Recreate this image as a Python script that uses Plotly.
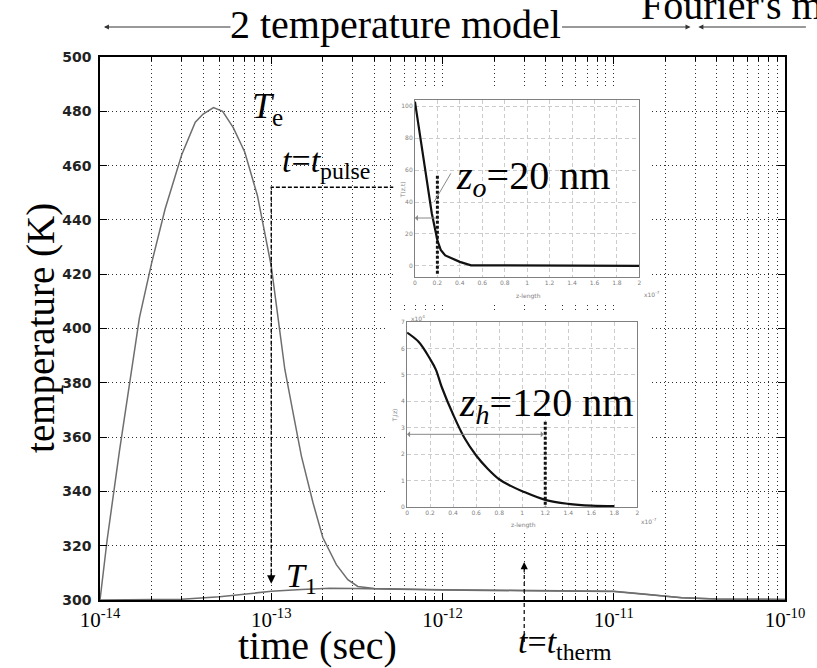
import math
import plotly.graph_objects as go

# ---------------- data ----------------
# electron temperature T_e (K) versus time (s)
te_time = [1.0e-14, 1.1e-14, 1.3e-14, 1.5e-14, 1.7e-14, 2.0e-14, 2.4e-14, 3.0e-14,
           3.6e-14, 4.0e-14, 4.6e-14, 5.2e-14, 6.0e-14, 7.0e-14, 8.3e-14, 1.0e-13,
           1.1e-13, 1.2e-13, 1.35e-13, 1.5e-13, 1.75e-13, 2.0e-13, 2.4e-13, 2.8e-13,
           3.2e-13, 4.0e-13, 1.0e-12, 3.0e-12, 1.0e-11, 1.5e-11, 2.5e-11, 4.0e-11, 1.0e-10]
te_temp = [300, 322, 355, 382, 404, 424, 444, 464,
           476, 479, 481.4, 480, 474, 465, 449, 423,
           402, 385, 368, 353, 336, 323, 313, 307.5,
           305, 304.2, 303.8, 303.5, 303.2, 302.2, 300.8, 300.4, 300.2]

# lattice temperature T_1 (K) versus time (s)
tl_time = [1.0e-14, 2.0e-14, 3.0e-14, 5.0e-14, 7.0e-14, 1.0e-13, 1.5e-13, 2.2e-13,
           3.0e-13, 5.0e-13, 1.0e-12, 3.0e-12, 1.0e-11, 1.5e-11, 2.5e-11, 4.0e-11, 1.0e-10]
tl_temp = [300, 300.1, 300.3, 301.2, 302.2, 303.2, 303.9, 304.3,
           304.2, 303.9, 303.7, 303.4, 303.1, 302.1, 300.8, 300.4, 300.2]

# inset 1: absorbed profile versus depth (x1e-7 m)
depth_o = [0, 0.05, 0.10, 0.15, 0.20, 0.23, 0.27, 0.32, 0.40, 0.50, 2.0]
prof_o = [103, 79, 56, 33, 16, 10, 6.5, 4.8, 2.5, 0.3, 0]

# inset 2: heated-zone profile versus depth (x1e-7 m)
depth_h = [0, 0.1, 0.2, 0.25, 0.3, 0.4, 0.5, 0.6, 0.7, 0.8, 0.9, 1.0, 1.2, 1.4, 1.6, 1.8]
prof_h = [6.6, 6.25, 5.6, 5.2, 4.55, 3.5, 2.6, 1.95, 1.45, 1.05, 0.8, 0.6, 0.27, 0.12, 0.05, 0.03]

decade_ticks = [1e-14, 1e-13, 1e-12, 1e-11, 1e-10]
decade_labels = ["10<sup>-14</sup>", "10<sup>-13</sup>", "10<sup>-12</sup>",
                 "10<sup>-11</sup>", "10<sup>-10</sup>"]
temp_ticks = [300, 320, 340, 360, 380, 400, 420, 440, 460, 480, 500]

t_pulse = 1e-13
pulse_level = 452
pulse_tip = 306
pulse_end = 5.2e-13
t_therm = 3.0e-12
therm_tip = 314
z_o = 0.2
z_h = 1.2

# ---------------- geometry helpers ----------------
W_PX, H_PX = 817, 668
L, R, TOP, BOT = 100, 21, 57, 68
PW = W_PX - L - R
PH = H_PX - TOP - BOT


def fx(x):
    return (x - L) / PW


def fy(y):
    return (H_PX - BOT - y) / PH


serif = "Liberation Serif"
grid_col = "#2e2e2e"
grid_dash = "1px,3px"
curve_col = "#6e6e6e"
minor_vals = [k * 10.0 ** n for n in range(-14, -10) for k in range(2, 10)]

fig = go.Figure()

# main curves
fig.add_trace(go.Scatter(x=te_time, y=te_temp, mode="lines",
                         line=dict(color=curve_col, width=1.5), xaxis="x", yaxis="y"))
fig.add_trace(go.Scatter(x=tl_time, y=tl_temp, mode="lines",
                         line=dict(color=curve_col, width=1.5), xaxis="x", yaxis="y"))

# t = t_pulse dashed marker
fig.add_trace(go.Scatter(x=[pulse_end, t_pulse, t_pulse],
                         y=[pulse_level, pulse_level, pulse_tip + 3],
                         mode="lines", line=dict(color="black", width=1.4, dash="4px,2px"),
                         xaxis="x", yaxis="y"))

# white panels behind the two insets
for ax_id in ("2", "3"):
    fig.add_trace(go.Scatter(x=[0], y=[0], mode="markers", marker=dict(opacity=0),
                             xaxis="x" + ax_id, yaxis="y" + ax_id, hoverinfo="skip"))

# inset 1
fig.add_trace(go.Scatter(x=depth_o, y=prof_o, mode="lines",
                         line=dict(color="#111", width=2.2), xaxis="x4", yaxis="y4"))
fig.add_trace(go.Scatter(x=[z_o, z_o], y=[-5, 57], mode="lines",
                         line=dict(color="#111", width=3, dash="3px,2px"), xaxis="x4", yaxis="y4"))
fig.add_trace(go.Scatter(x=[0.17, 0.32], y=[40, 58], mode="lines",
                         line=dict(color="#888", width=1), xaxis="x4", yaxis="y4"))

# inset 2
fig.add_trace(go.Scatter(x=depth_h, y=prof_h, mode="lines", line_shape="spline",
                         line=dict(color="#111", width=2.2), xaxis="x5", yaxis="y5"))
fig.add_trace(go.Scatter(x=[z_h, z_h], y=[-0.1, 3.3], mode="lines",
                         line=dict(color="#111", width=3, dash="3px,2px"), xaxis="x5", yaxis="y5"))

for tr in fig.data:
    tr.showlegend = False

inset_tick = dict(family="DejaVu Sans", size=6, color="#808080")


def inset_x(domain, anchor):
    return dict(domain=domain, anchor=anchor, range=[0, 2], dtick=0.2, tick0=0,
                showgrid=True, gridcolor="#cccccc", griddash="4px,3px", gridwidth=1,
                showline=True, linecolor="#808080", linewidth=1, mirror=True,
                ticks="", tickfont=inset_tick, zeroline=False, fixedrange=True)


def inset_y(domain, anchor, rng, dt):
    return dict(domain=domain, anchor=anchor, range=rng, dtick=dt, tick0=0,
                showgrid=True, gridcolor="#cccccc", griddash="4px,3px", gridwidth=1,
                showline=True, linecolor="#808080", linewidth=1, mirror=True,
                ticks="", tickfont=inset_tick, zeroline=False, fixedrange=True)


hidden = dict(visible=False, range=[0, 1], fixedrange=True)

fig.update_layout(
    width=W_PX, height=H_PX,
    margin=dict(l=L, r=R, t=TOP, b=BOT, pad=0),
    paper_bgcolor="white", plot_bgcolor="white", showlegend=False,
    xaxis=dict(type="log", range=[-14, -10], tickmode="array", tickvals=decade_ticks,
               ticktext=decade_labels, tickfont=dict(family=serif, size=21, color="black"),
               showgrid=True, gridcolor=grid_col, griddash=grid_dash, gridwidth=1,
               ticks="inside", ticklen=7, tickcolor="black", tickwidth=1,
               showline=True, linecolor="black", linewidth=1.5, mirror="ticks",
               minor=dict(tickmode="array", tickvals=minor_vals, showgrid=True,
                          gridcolor=grid_col, griddash=grid_dash, gridwidth=1,
                          ticks="inside", ticklen=4, tickcolor="black"),
               zeroline=False, domain=[0, 1], anchor="y"),
    yaxis=dict(range=[300, 500], tickmode="array", tickvals=temp_ticks,
               tickfont=dict(family="DejaVu Sans", size=14, color="#222", weight="bold"),
               ticklabelstandoff=4,
               showgrid=True, gridcolor=grid_col, griddash=grid_dash, gridwidth=1,
               ticks="inside", ticklen=7, tickcolor="black",
               showline=True, linecolor="black", linewidth=1.5, mirror="ticks",
               zeroline=False, domain=[0, 1], anchor="x"),
    xaxis2=dict(hidden, domain=[fx(398), fx(660)], anchor="y2"),
    yaxis2=dict(hidden, domain=[fy(303), fy(86)], anchor="x2"),
    xaxis3=dict(hidden, domain=[fx(392), fx(660)], anchor="y3"),
    yaxis3=dict(hidden, domain=[fy(533), fy(312)], anchor="x3"),
    xaxis4=inset_x([fx(420), fx(648)], "y4"),
    yaxis4=inset_y([fy(277), fy(100)], "x4", [-7, 104], 20),
    xaxis5=inset_x([fx(412), fx(646)], "y5"),
    yaxis5=inset_y([fy(507), fy(322)], "x5", [0, 7], 1),
)

ann = []


def text(x, y, s, size, xanchor="center", yanchor="middle", angle=0, color="black", family=serif):
    ann.append(dict(x=fx(x), y=fy(y), xref="paper", yref="paper", text=s, showarrow=False,
                    xanchor=xanchor, yanchor=yanchor, textangle=angle,
                    font=dict(family=family, size=size, color=color)))


# axis titles
text(40, 328, "temperature (K)", 39, angle=-90)
text(321, 645, "time (sec)", 40)

# curve and event labels
text(270, 108, "<i>T</i><sub>e</sub>", 36)
text(283, 163, "<i>t</i>=<i>t</i><sub>pulse</sub>", 34, xanchor="left")
text(305, 578, "<i>T</i><sub>1</sub>", 34)
text(572, 644, "<i>t</i>=<i>t</i><sub>therm</sub>", 34)
text(460, 178, "<i>z</i><sub><i>o</i></sub>=20 nm", 40, xanchor="left")
text(463, 405, "<i>z</i><sub><i>h</i></sub>=120 nm", 40, xanchor="left")

# regime labels along the top
text(400, 24, "2 temperature model", 40)
text(648, 6, "Fourier's model", 40, xanchor="left")

# inset small labels
text(407, 190, "T(z,t)", 6, angle=-90, color="#808080", family="DejaVu Sans")
text(535, 296, "z-length", 6, color="#808080", family="DejaVu Sans")
text(651, 294, "x10<sup>-7</sup>", 6, xanchor="left", color="#808080", family="DejaVu Sans")
text(400, 415, "T<sub>l</sub>(z)", 6, angle=-90, color="#808080", family="DejaVu Sans")
text(530, 525, "z-length", 6, color="#808080", family="DejaVu Sans")
text(648, 521, "x10<sup>-7</sup>", 6, xanchor="left", color="#808080", family="DejaVu Sans")
text(414, 318, "x10<sup>4</sup>", 6, xanchor="left", color="#808080", family="DejaVu Sans")


def arrow(hx, hy, tail_dx, tail_dy, color="#333", head=2, width=1, size=1.0):
    ann.append(dict(x=fx(hx), y=fy(hy), xref="paper", yref="paper", ax=tail_dx, ay=tail_dy,
                    axref="pixel", ayref="pixel", showarrow=True, arrowhead=head,
                    arrowsize=size, arrowwidth=width, arrowcolor=color, text=""))


# top regime arrows
arrow(104, 27, 128, 0)
arrow(700, 27, -130, 0)
arrow(708, 27, 109, 0)

# arrowheads for pulse and thermalisation markers
ann.append(dict(x=math.log10(t_pulse), y=pulse_tip, xref="x", yref="y", ax=0, ay=-12,
                showarrow=True, arrowhead=2, arrowsize=1.2, arrowwidth=1.4, arrowcolor="black", text=""))
ann.append(dict(x=math.log10(t_therm), y=therm_tip, xref="x", yref="y", ax=0, ay=12,
                showarrow=True, arrowhead=2, arrowsize=1.2, arrowwidth=1.2, arrowcolor="black", text=""))

# inset arrows
ann.append(dict(x=0, y=30, xref="x4", yref="y4", ax=z_o, ay=30, axref="x4", ayref="y4",
                showarrow=True, arrowhead=1, arrowsize=1, arrowwidth=1, arrowcolor="#888", text=""))
ann.append(dict(x=0, y=2.75, xref="x5", yref="y5", ax=z_h, ay=2.75, axref="x5", ayref="y5",
                showarrow=True, arrowhead=1, arrowside="end+start", arrowsize=1, arrowwidth=1,
                arrowcolor="#888", text=""))

fig.update_layout(annotations=ann)

# dashed thermalisation line, running below the time axis
fig.add_shape(type="line", xref="x", yref="paper", x0=t_therm, x1=t_therm,
              y0=fy(642), y1=(therm_tip - 300) / 200 - 0.02,
              line=dict(color="black", width=1.2, dash="4px,3px"))

fig.write_html("out.html")
